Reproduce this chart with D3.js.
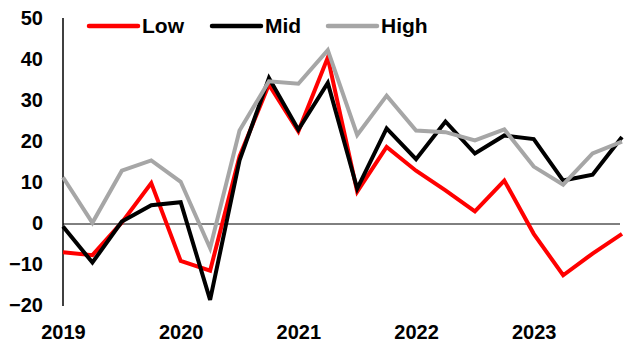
<!DOCTYPE html>
<html>
<head>
<meta charset="utf-8">
<script src="https://cdn.jsdelivr.net/npm/d3@7"></script>
<style>
  html, body { margin: 0; padding: 0; background: #fff; }
  svg { display: block; font-family: "Liberation Sans", Arial, sans-serif; font-weight: bold; }
</style>
</head>
<body>
<svg id="chart" width="642" height="347"></svg>
<script>
// Quarterly periods, 2019Q1 to 2023Q4
const quarters = [
  "2019Q1","2019Q2","2019Q3","2019Q4",
  "2020Q1","2020Q2","2020Q3","2020Q4",
  "2021Q1","2021Q2","2021Q3","2021Q4",
  "2022Q1","2022Q2","2022Q3","2022Q4",
  "2023Q1","2023Q2","2023Q3","2023Q4"
];
const low  = [-6.9, -7.6, 0.4, 10, -9, -11.4, 16.5, 34, 22.6, 40.6, 7.9, 18.8, 13, 8.2, 3.1, 10.6, -2.4, -12.5, -7.2, -2.4];
const mid  = [-0.6, -9.4, 0.6, 4.6, 5.3, -18.5, 15.5, 35.6, 23, 34.4, 8.6, 23.3, 15.8, 25, 17.2, 21.6, 20.7, 10.6, 12, 21.2];
const high = [11.4, 0.3, 13, 15.5, 10.3, -5.9, 22.8, 34.8, 34.2, 42.4, 21.7, 31.3, 22.8, 22.4, 20.4, 23.1, 14, 9.6, 17.2, 20.1];
const yTicks = [-20, -10, 0, 10, 20, 30, 40, 50];
const yearTicks = ["2019Q1","2020Q1","2021Q1","2022Q1","2023Q1"];

const series = [
  { name: "Low",  values: low,  color: "#ff0000" },
  { name: "Mid",  values: mid,  color: "#000000" },
  { name: "High", values: high, color: "#a6a6a6" }
];

const svg = d3.select("#chart");
const plot = { left: 63, right: 622, top: 19, bottom: 306 };

const x = d3.scalePoint().domain(quarters).range([plot.left, plot.right]);
const y = d3.scaleLinear().domain([-20, 50]).range([plot.bottom, plot.top]);

// Y axis: labels only, plus the vertical axis line
const yAxis = svg.append("g")
  .attr("transform", `translate(${plot.left},0)`)
  .call(d3.axisLeft(y).tickValues(yTicks).tickSize(0).tickPadding(20).tickFormat(d3.format("d")));
yAxis.select(".domain").remove();
yAxis.selectAll("text")
  .attr("font-size", 20).attr("font-weight", "bold")
  .attr("font-family", "'Liberation Sans', Arial, sans-serif")
  .attr("fill", "#000").attr("dy", "0.26em");

svg.append("line")
  .attr("x1", plot.left).attr("x2", plot.left)
  .attr("y1", y(50) - 1).attr("y2", y(-20))
  .attr("stroke", "#000").attr("stroke-width", 1.5);

// Zero line
svg.append("line")
  .attr("x1", plot.left).attr("x2", plot.right - 2)
  .attr("y1", y(0)).attr("y2", y(0))
  .attr("stroke", "#000").attr("stroke-width", 1);

// X axis: year labels at each Q1
const xAxis = svg.append("g")
  .attr("transform", `translate(0,${plot.bottom})`)
  .call(d3.axisBottom(x).tickValues(yearTicks).tickSize(0).tickPadding(0).tickFormat(d => d.slice(0, 4)));
xAxis.select(".domain").remove();
xAxis.selectAll("text")
  .attr("font-size", 20).attr("font-weight", "bold")
  .attr("font-family", "'Liberation Sans', Arial, sans-serif")
  .attr("fill", "#000").attr("y", 33).attr("dy", 0);

// Series lines
const line = d3.line()
  .x((d, i) => x(quarters[i]))
  .y(d => y(d));

svg.selectAll("path.series")
  .data(series)
  .join("path")
  .attr("class", "series")
  .attr("d", d => line(d.values))
  .attr("fill", "none")
  .attr("stroke", d => d.color)
  .attr("stroke-width", 4)
  .attr("stroke-linejoin", "miter");

// Legend
const legendX = [89, 212, 328];
const legend = svg.selectAll("g.legend")
  .data(series)
  .join("g")
  .attr("class", "legend")
  .attr("transform", (d, i) => `translate(${legendX[i]},26)`);
legend.append("line")
  .attr("x1", 0).attr("x2", 49)
  .attr("stroke", d => d.color).attr("stroke-width", 4.5)
  .attr("stroke-linecap", "round");
legend.append("text")
  .attr("x", 53).attr("y", 6.5)
  .attr("font-size", 21).attr("font-weight", "bold")
  .attr("fill", "#000")
  .text(d => d.name);
</script>
</body>
</html>
